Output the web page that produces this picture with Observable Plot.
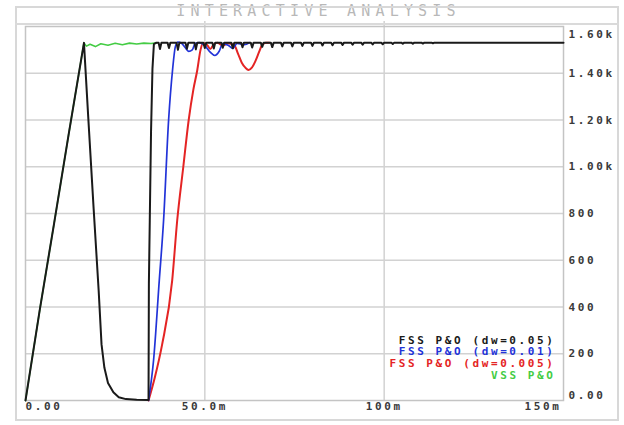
<!DOCTYPE html>
<html><head><meta charset="utf-8">
<script src="https://cdn.jsdelivr.net/npm/d3@7"></script>
<script src="https://cdn.jsdelivr.net/npm/@observablehq/plot@0.6"></script>
<style>
html,body{margin:0;padding:0;background:#fff;}
#wrap{position:relative;width:624px;height:425px;overflow:hidden;}
#outer{position:absolute;left:15px;top:6px;width:604px;height:415px;border:2px solid #d8d8d8;box-sizing:border-box;pointer-events:none;}
#titlebar{position:absolute;left:15px;top:6px;width:604px;height:19px;border-bottom:2px solid #dadada;box-sizing:border-box;pointer-events:none;}
</style></head>
<body><div id="wrap"><div id="chart"></div><div id="outer"></div><div id="titlebar"></div></div>
<script>
const title = "INTERACTIVE ANALYSIS";
const xTicks = [0, 50, 100, 150];
const xTickLabels = ["0.00", "50.0m", "100m", "150m"];
const yTicks = [0, 200, 400, 600, 800, 1000, 1200, 1400, 1600];
const yTickLabels = ["0.00", "200", "400", "600", "800", "1.00k", "1.20k", "1.40k", "1.60k"];
const seriesNames = ["FSS P&O (dw=0.05)", "FSS P&O (dw=0.01)", "FSS P&O (dw=0.005)", "VSS P&O"];
const seriesColors = ["#1a1a1a", "#2233d8", "#e42424", "#44cc44"];

// [time (ms), value]
const vssPO = [[0,0],[4,390],[8,760],[12,1135],[16.3,1530],[17,1516],[18,1524],[19.5,1514],[21,1526],[23,1520],[25,1528],[27,1522],[29,1529],[31,1525],[33,1529],[35,1527],[36.5,1530]];

const fssDw005 = [[0,0],[4,390],[8,760],[12,1135],[16.3,1530],
 [17.5,1210],[19,820],[20.4,470],[21.2,240],[22,140],[23,75],[24.5,35],[26,14],[28,6],[31,3],[34.3,2],
 [34.4,500],[34.65,771],[35,1150],[35.4,1420],[35.8,1525],[36.5,1531],
 [37.1,1531],[37.5,1504],[37.9,1531],
 [39.6,1531],[40,1508],[40.4,1531],
 [42.1,1531],[42.5,1500],[42.9,1531],
 [44.6,1531],[45,1505],[45.4,1531],
 [47.1,1531],[47.5,1502],[47.9,1531],
 [49.6,1531],[50,1508],[50.4,1531],
 [52.1,1531],[52.5,1506],[52.9,1531],
 [54.6,1531],[55,1509],[55.4,1531],
 [57.4,1531],[57.8,1507],[58.2,1531],
 [60.1,1531],[60.5,1511],[60.9,1531],
 [62.8,1531],[63.2,1510],[63.6,1531],
 [65.6,1531],[66,1513],[66.4,1531],
 [68.4,1531],[68.8,1512],[69.2,1531],
 [71.2,1531],[71.6,1515],[72,1531],
 [74,1531],[74.4,1515],[74.8,1531],
 [76.8,1531],[77.2,1517],[77.6,1531],
 [79.6,1531],[80,1517],[80.4,1531],
 [82.4,1531],[82.8,1519],[83.2,1531],
 [85.2,1531],[85.6,1520],[86,1531],
 [88,1531],[88.4,1521],[88.8,1531],
 [90.8,1531],[91.2,1522],[91.6,1531],
 [93.6,1531],[94,1522],[94.4,1531],
 [96.4,1531],[96.8,1523],[97.2,1531],
 [99.2,1531],[99.6,1524],[100,1531],
 [102,1531],[102.4,1525],[102.8,1531],
 [104.8,1531],[105.2,1526],[105.6,1531],
 [107.6,1531],[108,1526],[108.4,1531],
 [110.4,1531],[110.8,1527],[111.2,1531],
 [113.2,1531],[113.6,1528],[114,1531],
 [150,1531]];

const fssDw001 = [[34.3,0],[35.7,171],[37.3,514],[38.5,771],[39.9,1200],[41,1414],[41.8,1515],[42.5,1533],[43.5,1528],[44.5,1510],[45.5,1494],[46.5,1500],[47.3,1527],[48.5,1531],[50,1518],[51.5,1490],[52.8,1476],[54,1494],[55,1527],[56.5,1520],[57.8,1506],[59,1528],[61,1522],[62.5,1531]];

const fssDw0005 = [[34.3,0],[36,95],[38.1,240],[40.9,514],[42.3,771],[44,1000],[45.5,1200],[46.8,1330],[47.9,1414],[48.8,1500],[49.5,1528],[50.5,1524],[51.5,1504],[52.5,1524],[53.5,1530],[55,1518],[56.5,1528],[58.2,1520],[59.3,1482],[60.3,1445],[61.3,1424],[62.2,1414],[63.1,1424],[64.1,1452],[65.1,1490],[66,1522],[67,1531],[68,1531]];

const series = [fssDw005, fssDw001, fssDw0005, vssPO];
const drawOrder = [3, 2, 1, 0];
const widths = [2, 1.7, 2, 1.6];
const curves = ["linear", "monotone-x", "monotone-x", "linear"];
const legendDy = [-57, -45.5, -34, -22];
const labelFill = "#3a3a3a";

const marks = [
  Plot.ruleX(xTicks.slice(1, -1), {stroke: "#d2d2d2", strokeWidth: 1.5, insetTop: -5}),
  Plot.ruleY(yTicks.slice(1, -1), {stroke: "#d2d2d2", strokeWidth: 1.5}),
  Plot.frame({stroke: "#c4c4c4", strokeWidth: 1.5}),
];
for (const i of drawOrder) {
  marks.push(Plot.line(series[i], {x: d => d[0], y: d => d[1], stroke: seriesColors[i], strokeWidth: widths[i], curve: curves[i]}));
}
// y tick labels (right side)
const yIdx = yTicks.map((_, i) => i);
const yLab = {x: () => 150, y: i => yTicks[i], text: i => yTickLabels[i], textAnchor: "start", dx: 5, fill: labelFill, fontWeight: "bold"};
marks.push(Plot.text(yIdx.filter(i => i > 0 && i < yTicks.length - 1), yLab));
marks.push(Plot.text([yTicks.length - 1], {...yLab, dy: 8}));
marks.push(Plot.text([0], {...yLab, dy: -5}));
// x tick labels
const xLab = {x: i => xTicks[i], text: i => xTickLabels[i], frameAnchor: "bottom", dy: 9, fill: labelFill, fontWeight: "bold"};
marks.push(Plot.text([0], {...xLab, textAnchor: "start"}));
marks.push(Plot.text([1, 2], {...xLab, textAnchor: "middle"}));
marks.push(Plot.text([3], {...xLab, textAnchor: "end", dx: -2}));
// legend
seriesNames.forEach((name, i) => {
  marks.push(Plot.text([name], {frameAnchor: "bottom-right", dx: -8, dy: legendDy[i], text: d => d, textAnchor: "end", fill: seriesColors[i], fontWeight: "bold"}));
});
// title
marks.push(Plot.text([title], {frameAnchor: "top", dy: -11, dx: 24, lineAnchor: "bottom", text: d => d, fill: "#b8b8b8", fontSize: 15, textAnchor: "middle"}));

const plot = Plot.plot({
  width: 624, height: 425,
  marginLeft: 25, marginRight: 61, marginTop: 26, marginBottom: 25,
  x: {domain: [0, 150], axis: null},
  y: {domain: [0, 1600], axis: null},
  style: {fontFamily: "'DejaVu Sans Mono', monospace", fontSize: "11px", background: "transparent", overflow: "visible"},
  marks
});
d3.select(plot).selectAll("text").attr("letter-spacing", 2.6);
d3.select(plot).selectAll("text").filter(function() { return this.textContent === title; }).attr("letter-spacing", 5.2);
document.getElementById("chart").appendChild(plot);
</script>
</body></html>
